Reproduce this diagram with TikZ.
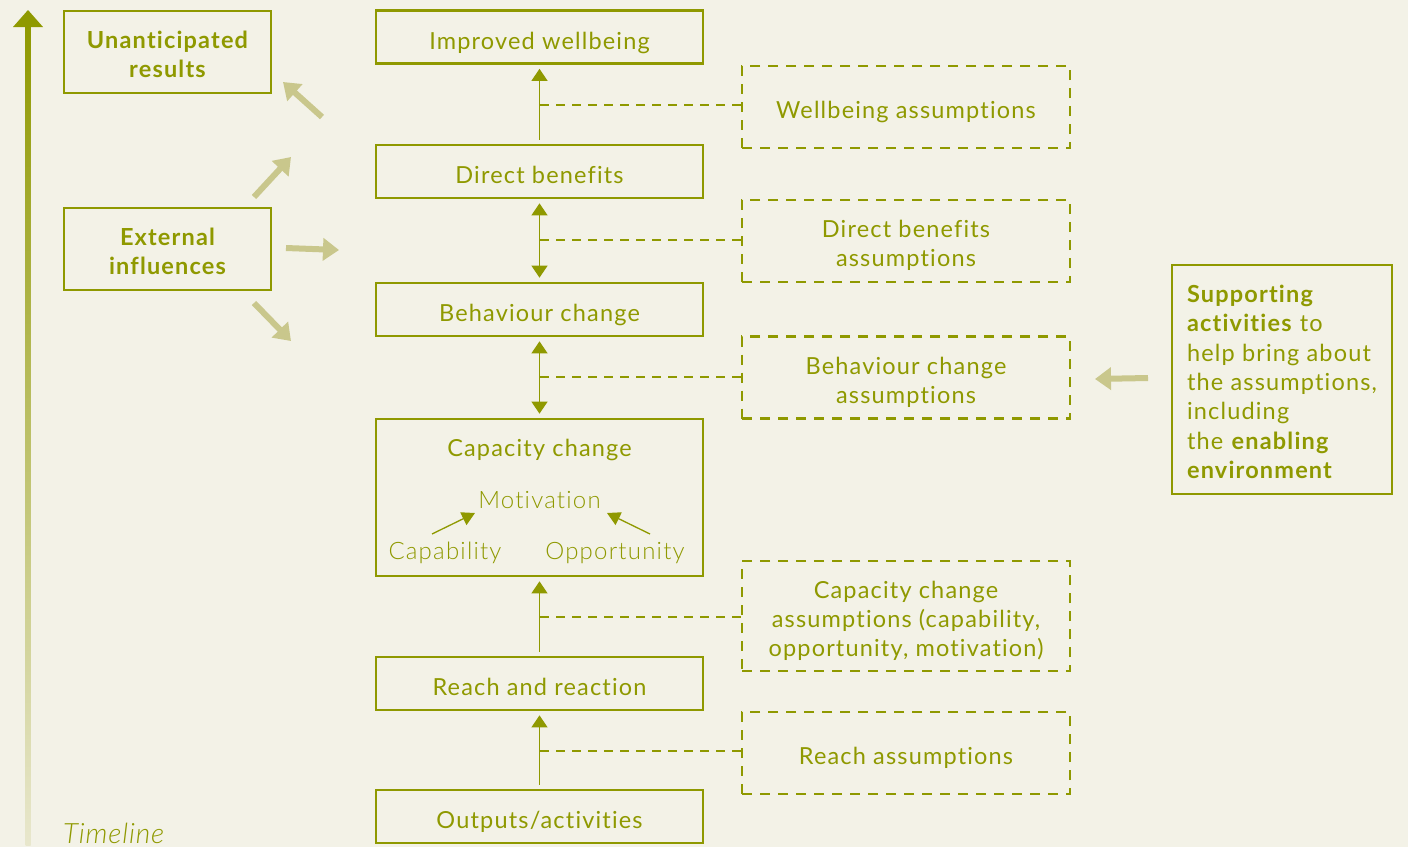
\documentclass[tikz,border=0pt]{standalone}
\usepackage{fontspec}
\setmainfont{Lato}[LetterSpace=5,Ligatures=NoCommon]
\IfFontExistsTF{Lato Light}{\newfontfamily\lightfont{Lato Light}[LetterSpace=5,Ligatures=NoCommon]}{\newfontfamily\lightfont{Lato}[LetterSpace=5,Ligatures=NoCommon]}
\IfFontExistsTF{Lato Light Italic}{\newfontfamily\lightital{Lato Light Italic}[LetterSpace=3]}{\newfontfamily\lightital{Lato Italic}[LetterSpace=3]}
\newcommand\liftto[1]{\rule{0pt}{#1}}
\usetikzlibrary{arrows.meta,positioning}
\definecolor{ol}{RGB}{143,153,0}
\definecolor{bg}{RGB}{243,242,231}
\definecolor{lt}{RGB}{201,199,140}
\definecolor{fade}{RGB}{232,231,205}
\tikzset{
  box/.style={draw=ol,line width=2.7pt,minimum width=327pt,minimum height=53pt,inner sep=0pt,text=ol,font=\fontsize{23.5}{29}\selectfont,align=center,text depth=0pt},
  sidebox/.style={draw=ol,line width=2.7pt,minimum width=207pt,minimum height=82pt,inner sep=0pt,text=ol,font=\fontsize{23.5}{29}\selectfont\bfseries,align=center,text depth=0pt},
  dbox/.style={draw=ol,line width=2.7pt,dash pattern=on 10pt off 8pt,minimum width=328pt,minimum height=82pt,inner sep=0pt,text=ol,font=\fontsize{23.5}{29}\selectfont,align=center,text depth=0pt},
  conn/.style={draw=ol,line width=1.3pt,dash pattern=on 9pt off 7pt},
  flow/.style={draw=ol,line width=1.3pt,shorten >=4pt,shorten <=4pt},
  otip/.tip={Triangle[width=16pt,length=12pt]},
  lightarrow/.style={draw=lt,line width=6pt,-{Triangle[width=22pt,length=16pt]}},
  inner/.style={text=ol,font=\fontsize{23.5}{29}\selectfont,inner sep=0pt},
  innerlight/.style={text=ol,font=\fontsize{24}{29}\selectfont\lightfont,inner sep=0pt}
}
\begin{document}
\begin{tikzpicture}[x=1pt,y=-1pt]
\fill[bg] (0,0) rectangle (1408,847);
\useasboundingbox (0,0) rectangle (1408,847);
% timeline
\shade[top color=ol,bottom color=fade] (25.5,24) rectangle (30.5,845);
\fill[ol] (13,27) -- (43,27) -- (28,10) -- cycle;
\node[anchor=base west,text=ol,font=\fontsize{28}{30}\selectfont\lightital,inner sep=0pt] (tl) at (63,843) {Timeline};
% side boxes
\node[sidebox] (ur) at (167.5,52) {\liftto{22pt}Unanticipated\\results};
\node[sidebox] (ei) at (167.5,249) {\liftto{22pt}External\\influences};
\coordinate (a1s) at (322,117); \coordinate (a1e) at (283,82);
\coordinate (a2s) at (254,197); \coordinate (a2e) at (291,157);
\coordinate (a3s) at (286,248); \coordinate (a3e) at (339,250);
\coordinate (a4s) at (254,303); \coordinate (a4e) at (291,341);
\draw[lightarrow] (a1s) -- (a1e);
\draw[lightarrow] (a2s) -- (a2e);
\draw[lightarrow] (a3s) -- (a3e);
\draw[lightarrow] (a4s) -- (a4e);
% main column
\node[box] (iw) at (539.5,37) {\liftto{24pt}Improved wellbeing};
\node[box] (db) at (539.5,171.5) {\liftto{24pt}Direct benefits};
\node[box] (bc) at (539.5,309.5) {\liftto{24pt}Behaviour change};
\node[box,minimum height=157pt] (cc) at (539.5,497.5) {};
\node[box] (rr) at (539.5,683.5) {\liftto{24pt}Reach and reaction};
\node[box] (oa) at (539.5,816.5) {\liftto{24pt}Outputs/activities};
% capacity change contents
\node[inner] (cct) at (539.5,450) {Capacity change};
\node[innerlight] (mo) at (539.5,500) {Motivation};
\node[innerlight] (cap) at (445,553) {Capability};
\node[innerlight] (opp) at (615,553) {Opportunity};
\coordinate (c1) at (432,534); \coordinate (c2) at (650,534);
\coordinate (m1) at (475,513); \coordinate (m2) at (607,513);
\draw[ol,line width=1.3pt,-{Triangle[width=14pt,length=13pt]}] (c1) -- (m1);
\draw[ol,line width=1.3pt,-{Triangle[width=14pt,length=13pt]}] (c2) -- (m2);
% flow arrows
\draw[flow,-{otip}] (db.north) -- (iw.south);
\draw[flow,{otip}-{otip}] (db.south) -- (bc.north);
\draw[flow,{otip}-{otip}] (bc.south) -- (cc.north);
\draw[flow,-{otip}] (rr.north) -- (cc.south);
\draw[flow,-{otip}] (oa.north) -- (rr.south);
% assumption boxes
\node[dbox] (wa) at (906,107) {\liftto{22.5pt}Wellbeing assumptions};
\node[dbox] (da) at (906,241) {\liftto{22pt}Direct benefits\\assumptions};
\node[dbox] (ba) at (906,377.5) {\liftto{22pt}Behaviour change\\assumptions};
\node[dbox,minimum height=110pt] (ca) at (906,616) {\liftto{23.5pt}Capacity change\\assumptions (capability,\\opportunity, motivation)};
\node[dbox] (ra) at (906,753) {\liftto{22.5pt}Reach assumptions};
\coordinate (p1) at (540,105);
\coordinate (p2) at (540,240);
\coordinate (p3) at (540,377);
\coordinate (p4) at (540,617);
\coordinate (p5) at (540,751);
\draw[conn] (p1) -- (p1 -| wa.west);
\draw[conn] (p2) -- (p2 -| da.west);
\draw[conn] (p3) -- (p3 -| ba.west);
\draw[conn] (p4) -- (p4 -| ca.west);
\draw[conn] (p5) -- (p5 -| ra.west);
% supporting activities
\node[draw=ol,line width=2.7pt,minimum width=220pt,minimum height=229pt,align=left,inner sep=0pt,text=ol,font=\fontsize{23.5}{29.3}\selectfont,text depth=0pt] (sa) at (1282,379.5)
 {\liftto{22pt}\textbf{Supporting}\\\textbf{activities} to\\help bring about\\the assumptions,\\including\\the \textbf{enabling}\\\textbf{environment}};
\coordinate (s1) at (1148,378); \coordinate (s2) at (1095,379);
\draw[lightarrow] (s1) -- (s2);
\end{tikzpicture}
\end{document}
